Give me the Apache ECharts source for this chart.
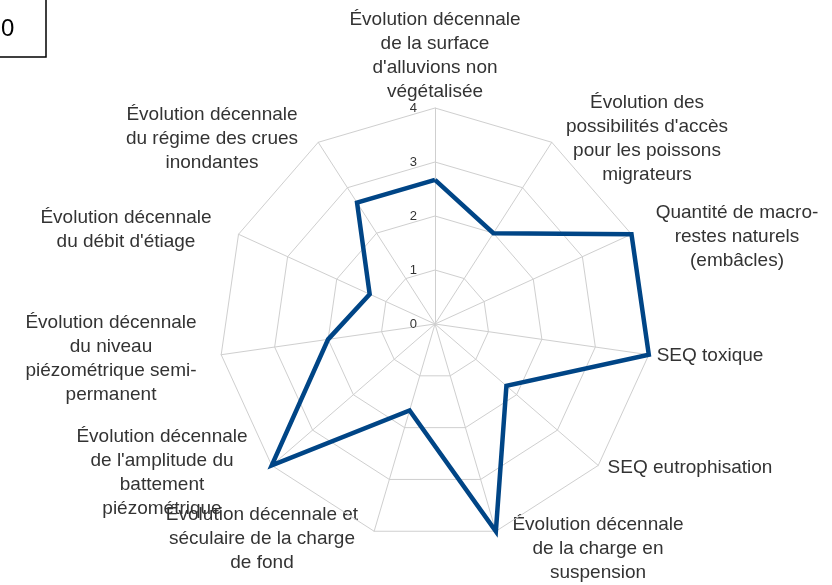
<!DOCTYPE html>
<html>
<head>
<meta charset="utf-8">
<script src="https://cdn.jsdelivr.net/npm/echarts@6/dist/echarts.min.js"></script>
<style>
html,body{margin:0;padding:0;background:#fff;}
#chart{width:832px;height:585px;}
</style>
</head>
<body>
<div id="chart"></div>
<script>
// Axes in clockwise order starting from the top
const indicatorNames = [
  "Évolution décennale\nde la surface\nd'alluvions non\nvégétalisée",
  "Évolution des\npossibilités d'accès\npour les poissons\nmigrateurs",
  "Quantité de macro-\nrestes naturels\n(embâcles)",
  "SEQ toxique",
  "SEQ eutrophisation",
  "Évolution décennale\nde la charge en\nsuspension",
  "Évolution décennale et\nséculaire de la charge\nde fond",
  "Évolution décennale\nde l'amplitude du\nbattement\npiézométrique",
  "Évolution décennale\ndu niveau\npiézométrique semi-\npermanent",
  "Évolution décennale\ndu débit d'étiage",
  "Évolution décennale\ndu régime des crues\ninondantes"
];
const seriesValues = [2.67, 2, 4, 4, 1.75, 4, 1.67, 4, 2, 1.33, 2.67];
const axisMax = 4;
const tickLabels = ["0", "1", "2", "3", "4"];
const cornerText = "0";

// label anchor positions (center x, top y) for each axis name
const namePositions = [
  [435, 8], [647, 91], [737, 201], [710, 344], [690, 456],
  [598, 513], [262, 503], [162, 425], [111, 311], [126, 206], [212, 103]
];

// ECharts radar goes counterclockwise: reorder (0, 10, 9, ..., 1)
const order = [0];
for (let i = indicatorNames.length - 1; i >= 1; i--) order.push(i);

const indicators = order.map((i, k) => {
  const o = { name: indicatorNames[i], max: axisMax, min: 0 };
  if (k === 0) o.axisLabel = { show: true };
  return o;
});
const values = order.map(i => seriesValues[i]);

const textStyleBase = { fontFamily: 'Liberation Sans, Arial, sans-serif', fontSize: 19, fill: '#333', lineHeight: 24 };

const graphics = indicatorNames.map((n, i) => ({
  type: 'text',
  x: namePositions[i][0],
  y: namePositions[i][1],
  style: Object.assign({ text: n, align: 'center', verticalAlign: 'top' }, textStyleBase),
  silent: true
}));
graphics.push({
  type: 'rect',
  shape: { x: -10, y: -10, width: 56, height: 67 },
  style: { fill: 'none', stroke: '#000', lineWidth: 1.5 },
  silent: true
});
graphics.push({
  type: 'text',
  x: 1, y: 17,
  style: { text: cornerText, fontFamily: 'Liberation Sans, Arial, sans-serif', fontSize: 24, fill: '#000' },
  silent: true
});

const chart = echarts.init(document.getElementById('chart'), null, { renderer: 'canvas' });
chart.setOption({
  animation: false,
  backgroundColor: '#fff',
  radar: {
    center: [435, 324],
    radius: 216,
    startAngle: 90,
    splitNumber: 4,
    shape: 'polygon',
    indicator: indicators,
    axisName: { show: false },
    axisLine: { lineStyle: { color: '#cfcfcf', width: 1 } },
    splitLine: { lineStyle: { color: '#cfcfcf', width: 1 } },
    splitArea: { show: false },
    axisTick: { show: false },
    axisLabel: {
      show: false,
      color: '#333',
      fontSize: 13,
      fontFamily: 'Liberation Sans, Arial, sans-serif',
      margin: 18,
      formatter: v => tickLabels[Math.round(v)] !== undefined ? tickLabels[Math.round(v)] : ''
    }
  },
  series: [{
    type: 'radar',
    symbol: 'none',
    lineStyle: { color: '#004586', width: 4.5, join: 'miter' },
    itemStyle: { color: '#004586' },
    data: [{ value: values, name: 'Série' }]
  }],
  graphic: graphics
});
</script>
</body>
</html>
